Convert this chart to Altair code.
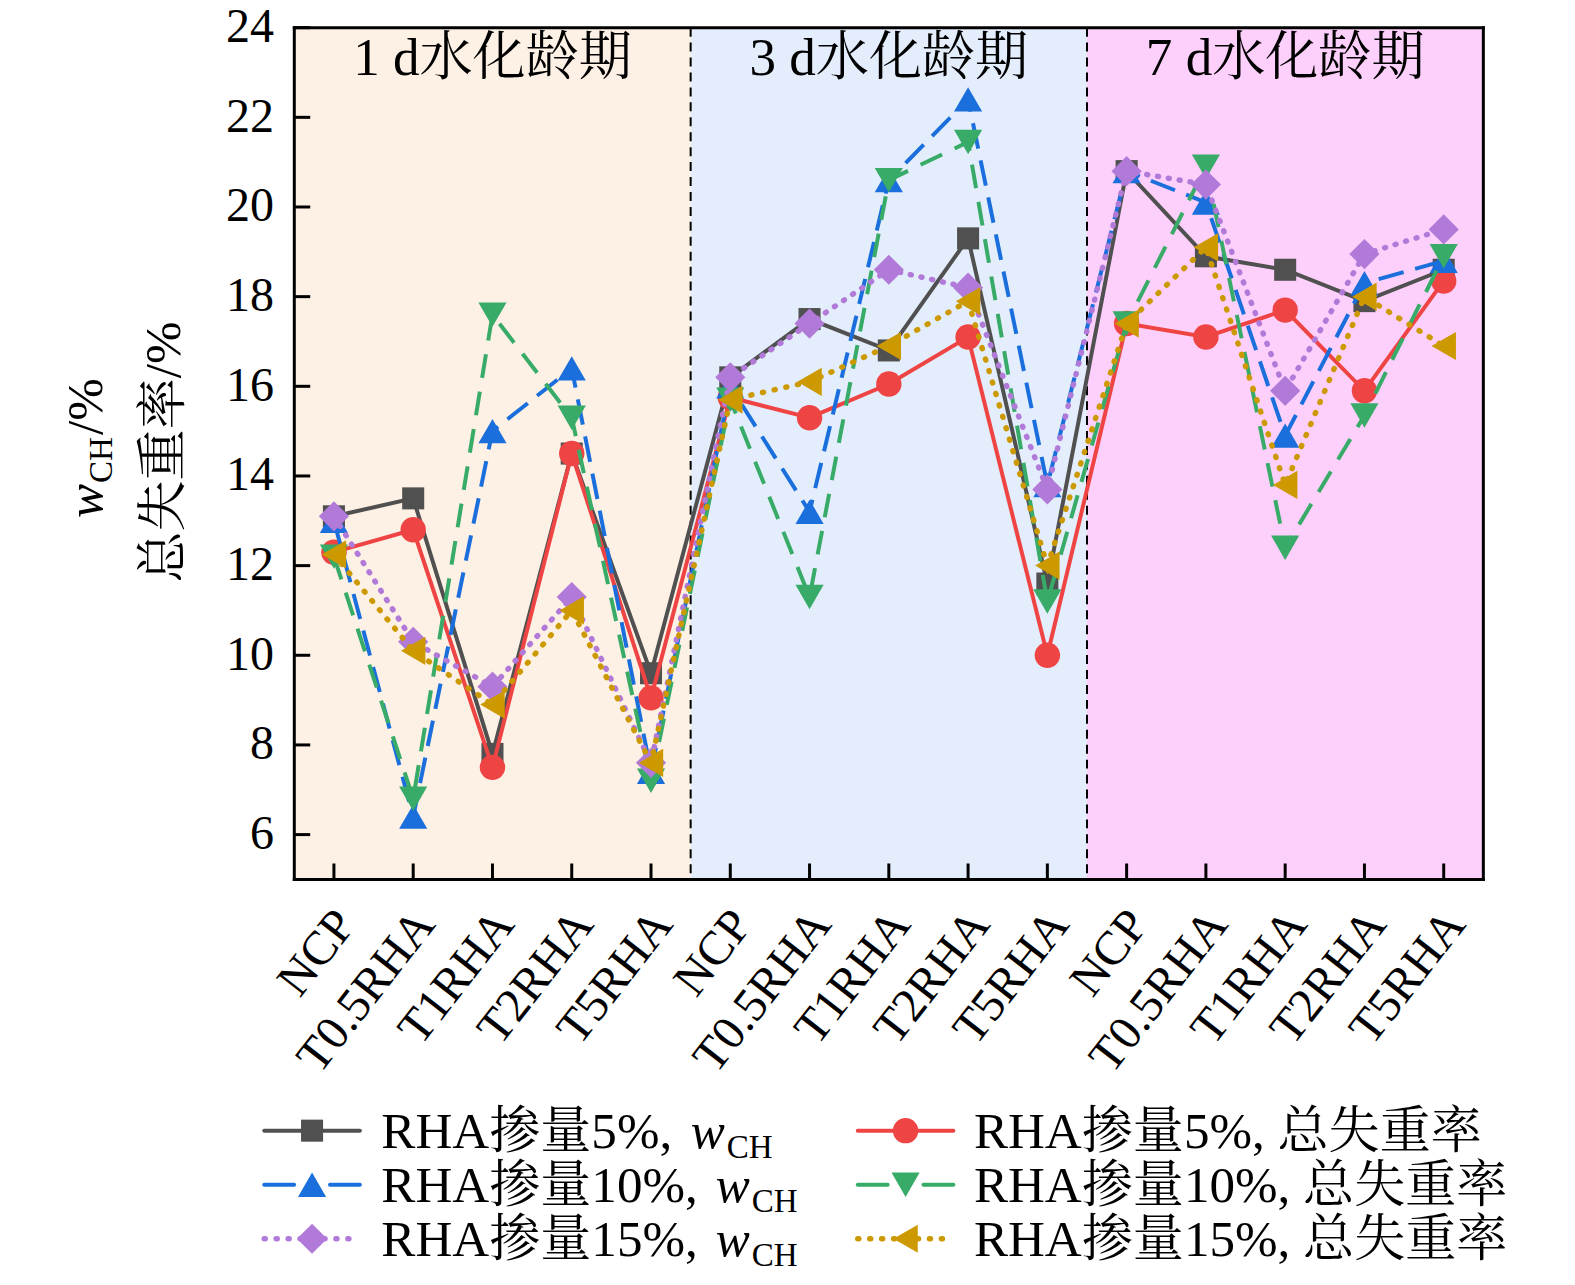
import altair as alt
import pandas as pd

# ---------------- data ----------------
tick_labels = ["NCP", "T0.5RHA", "T1RHA", "T2RHA", "T5RHA",
               "NCP", "T0.5RHA", "T1RHA", "T2RHA", "T5RHA",
               "NCP", "T0.5RHA", "T1RHA", "T2RHA", "T5RHA"]
groups = ["1 d水化龄期", "3 d水化龄期", "7 d水化龄期"]

wch5 = [13.1, 13.5, 7.8, 14.5, 9.6, 16.2, 17.5, 16.8, 19.3, 11.6, 20.8, 18.9, 18.6, 17.9, 18.6]
wch10 = [13.0, 6.4, 15.0, 16.4, 7.4, 16.0, 13.2, 20.6, 22.4, 13.8, 20.8, 20.1, 14.9, 18.3, 18.8]
wch15 = [13.1, 10.3, 9.3, 11.3, 7.6, 16.2, 17.4, 18.6, 18.2, 13.7, 20.8, 20.5, 15.9, 18.95, 19.5]
loss5 = [12.3, 12.8, 7.5, 14.5, 9.05, 15.75, 15.3, 16.05, 17.1, 10.0, 17.4, 17.1, 17.7, 15.9, 18.35]
loss10 = [12.2, 6.8, 17.6, 15.3, 7.2, 15.7, 11.3, 20.6, 21.45, 11.2, 17.4, 20.9, 12.4, 15.35, 18.9]
loss15 = [12.25, 10.1, 8.9, 11.0, 7.6, 15.7, 16.1, 16.9, 17.9, 12.0, 17.4, 19.1, 13.8, 18.0, 16.9]

y_ticks = [6, 8, 10, 12, 14, 16, 18, 20, 22, 24]

# ---------------- layout / style ----------------
S = 0.995                       # compensation for screenshot scaling
L = 294 / S - 8                 # left padding
T = 25 / S - 8                  # top padding
W = 1188 / S
H = 851 / S


def px(xs):  # screen x -> plot coords
    return xs / S - 8 - L


def py(ys):  # screen y -> plot coords
    return ys / S - 8 - T


def fs(v):
    return round(v / S, 1)


FONT = "Liberation Serif, Noto Serif CJK SC, Noto Sans CJK SC"
BG = ["#fdf0e4", "#e3edfb", "#fdd0fb"]

xscale = alt.Scale(domain=[-0.5, 14.5], nice=False, zero=False)
yscale = alt.Scale(domain=[5, 24], nice=False, zero=False)
label_expr = "[" + ",".join("'%s'" % t for t in tick_labels) + "][datum.value]"
xaxis = alt.Axis(values=list(range(15)), labelExpr=label_expr, labelAngle=-52,
                 labelAlign="right", labelBaseline="top", labelFontSize=fs(48),
                 labelFont=FONT, labelColor="black", labelPadding=22, labelOffset=-7,
                 labelLimit=500, ticks=False, domain=False, grid=False, title=None,
                 labelOverlap=False, labelBound=False, labelFlush=False)
yaxis = alt.Axis(values=y_ticks, labelFontSize=fs(48), labelFont=FONT, labelColor="black",
                 labelPadding=21, ticks=False, domain=False, grid=False, title=None,
                 labelOverlap=False, labelFlush=False, labelBound=False)

one = pd.DataFrame({"a": [0]})
layers = []

# background bands
bg_df = pd.DataFrame({
    "group": groups,
    "start": [g * 5 - 0.5 for g in range(3)],
    "end": [g * 5 + 4.5 for g in range(3)],
    "center": [g * 5 + 2 for g in range(3)],
})
layers.append(alt.Chart(bg_df).mark_rect(opacity=1).encode(
    x=alt.X("start:Q", scale=xscale, axis=xaxis),
    x2="end:Q",
    y=alt.value(0), y2=alt.value(H),
    color=alt.Color("group:N", scale=alt.Scale(domain=groups, range=BG), legend=None),
))
# dashed separators
layers.append(alt.Chart(bg_df.iloc[1:]).mark_rule(color="black", strokeWidth=2, strokeDash=[9, 6]).encode(
    x=alt.X("start:Q", scale=xscale, axis=xaxis), y=alt.value(0), y2=alt.value(H)))
# group titles
layers.append(alt.Chart(bg_df).mark_text(font=FONT, fontSize=fs(53), color="black", baseline="middle").encode(
    x=alt.X("center:Q", scale=xscale, axis=xaxis), y=alt.value(py(56)), text="group:N"))

# series
series = [
    (wch5, "#505050", None, "butt", "square", 490),
    (loss5, "#ef4444", None, "butt", "circle", 650),
    (wch10, "#1a6fdc", [26, 12], "butt", "triangle-up", 800),
    (loss10, "#37ab67", [24, 14], "butt", "triangle-down", 800),
    (wch15, "#b27ad8", [1, 10], "round", "diamond", 920),
    (loss15, "#cc9900", [1, 11], "round", "triangle-left", 800),
]
for vals, col, dash, cap, shape, size in series:
    df = pd.DataFrame({"idx": list(range(15)), "v": vals})
    lkw = dict(color=col, strokeWidth=5.5 if cap == "round" else 4, strokeCap=cap)
    if dash:
        lkw["strokeDash"] = dash
    enc = dict(x=alt.X("idx:Q", scale=xscale, axis=xaxis), y=alt.Y("v:Q", scale=yscale, axis=yaxis))
    layers.append(alt.Chart(df).mark_line(**lkw).encode(**enc))
    layers.append(alt.Chart(df).mark_point(shape=shape, filled=True, size=size, color=col,
                                           opacity=1, strokeWidth=0).encode(**enc))

# inward ticks
yt = pd.DataFrame({"v": y_ticks})
layers.append(alt.Chart(yt).mark_rule(color="black", strokeWidth=3).encode(
    y=alt.Y("v:Q", scale=yscale, axis=yaxis), x=alt.value(0), x2=alt.value(16)))
xt = pd.DataFrame({"i": list(range(15))})
layers.append(alt.Chart(xt).mark_rule(color="black", strokeWidth=3).encode(
    x=alt.X("i:Q", scale=xscale, axis=xaxis), y=alt.value(H), y2=alt.value(H - 16)))

# frame
for enc in [dict(x=alt.value(0), x2=alt.value(W), y=alt.value(0)),
            dict(x=alt.value(0), x2=alt.value(W), y=alt.value(H)),
            dict(x=alt.value(0), y=alt.value(0), y2=alt.value(H)),
            dict(x=alt.value(W), y=alt.value(0), y2=alt.value(H))]:
    layers.append(alt.Chart(one).mark_rule(color="black", strokeWidth=3, strokeCap="square").encode(**enc))

# y-axis title (two lines, rotated)
layers.append(alt.Chart(one).mark_text(text="总失重率/%", font=FONT, fontSize=fs(51), angle=270,
                                       align="center", baseline="middle", color="black").encode(
    x=alt.value(px(165)), y=alt.value(py(449))))
layers.append(alt.Chart(one).mark_text(text="w", font=FONT, fontSize=fs(51), fontStyle="italic", angle=270,
                                       align="left", baseline="alphabetic", color="black").encode(
    x=alt.value(px(102)), y=alt.value(py(515))))
layers.append(alt.Chart(one).mark_text(text="CH", font=FONT, fontSize=fs(33), angle=270,
                                       align="left", baseline="alphabetic", color="black").encode(
    x=alt.value(px(112)), y=alt.value(py(480))))
layers.append(alt.Chart(one).mark_text(text="/%", font=FONT, fontSize=fs(51), angle=270,
                                       align="left", baseline="alphabetic", color="black").encode(
    x=alt.value(px(102)), y=alt.value(py(432))))

# custom legend
leg_left = ["RHA掺量5%,", "RHA掺量10%,", "RHA掺量15%,"]
leg_right = ["RHA掺量5%, 总失重率", "RHA掺量10%, 总失重率", "RHA掺量15%, 总失重率"]
rows_y = [1127, 1181, 1235]
w_x = [690, 715, 715]
legend_order = [0, 2, 4, 1, 3, 5]
for k, si in enumerate(legend_order):
    vals, col, dash, cap, shape, size = series[si]
    r = k % 3
    left = k < 3
    x0 = px(262 if left else 855)
    xm = x0 + 50
    ty = py(rows_y[r])
    if dash and cap != "round":
        layers.append(alt.Chart(one).mark_rule(color=col, strokeWidth=4, strokeCap="round").encode(
            x=alt.value(x0 + 2), x2=alt.value(x0 + 32), y=alt.value(ty)))
        layers.append(alt.Chart(one).mark_rule(color=col, strokeWidth=4, strokeCap="round").encode(
            x=alt.value(x0 + 68), x2=alt.value(x0 + 98), y=alt.value(ty)))
    else:
        rkw = dict(color=col, strokeWidth=5.5 if cap == "round" else 4, strokeCap="round")
        if dash:
            rkw["strokeDash"] = [1, 11]
        layers.append(alt.Chart(one).mark_rule(**rkw).encode(
            x=alt.value(x0 + 2), x2=alt.value(x0 + 98), y=alt.value(ty)))
    layers.append(alt.Chart(one).mark_point(shape=shape, filled=True, size=size, color=col,
                                            opacity=1, strokeWidth=0).encode(
        x=alt.value(xm), y=alt.value(ty)))
    if left:
        layers.append(alt.Chart(one).mark_text(text=leg_left[r], font=FONT, fontSize=fs(51), align="left",
                                               baseline="alphabetic", color="black").encode(
            x=alt.value(px(381)), y=alt.value(ty + 17)))
        layers.append(alt.Chart(one).mark_text(text="w", font=FONT, fontSize=fs(51), fontStyle="italic",
                                               align="left", baseline="alphabetic", color="black").encode(
            x=alt.value(px(w_x[r])), y=alt.value(ty + 17)))
        layers.append(alt.Chart(one).mark_text(text="CH", font=FONT, fontSize=fs(33), align="left",
                                               baseline="alphabetic", color="black").encode(
            x=alt.value(px(w_x[r] + 36)), y=alt.value(ty + 27)))
    else:
        layers.append(alt.Chart(one).mark_text(text=leg_right[r], font=FONT, fontSize=fs(51), align="left",
                                               baseline="alphabetic", color="black").encode(
            x=alt.value(px(973)), y=alt.value(ty + 17)))

bottom_pad = int(1284 / S - 16 - T - H)
right_pad = int(1574 / S - 16 - L - W)
chart = alt.layer(*layers).properties(
    width=W, height=H,
    autosize=alt.AutoSizeParams(type="none"),
    padding={"left": L, "top": T, "right": right_pad, "bottom": bottom_pad},
).configure_view(stroke=None).configure(background="white")

chart.save("out.html", embed_options={"renderer": "svg", "actions": False})
